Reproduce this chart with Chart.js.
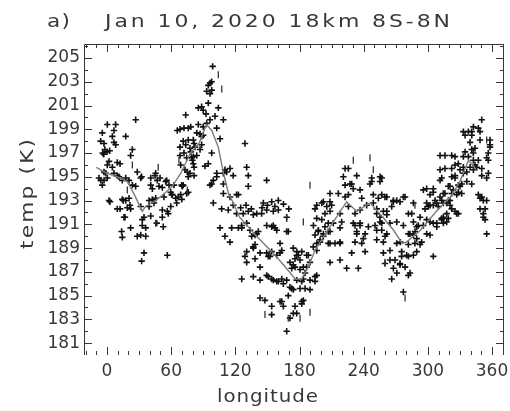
<!DOCTYPE html>
<html>
<head>
<meta charset="utf-8">
<title>Jan 10, 2020 18km 8S-8N</title>
<script src="https://cdn.jsdelivr.net/npm/chart.js@4.4.1/dist/chart.umd.min.js"></script>
<style>
  html, body { margin: 0; padding: 0; background: #fff; }
  #wrap { width: 510px; height: 411px; }
</style>
</head>
<body>
<div id="wrap"><canvas id="chart" width="510" height="411"></canvas></div>
<script>
// values (longitude in deg, temperature in K)
const plusLon = [
  -7.5, -5.9, -2.8, 0.3, -4.4, -5.9, -2.8, 6.5, 8.1, -4.4,
  6.5, 5.0, 17.5, 0.3, 8.1, 26.8, -4.0, -2.0, 0.0, 2.5,
  -3.0, 23.7, 22.1, 1.9, 9.6, 12.2, 0.3, 5.0, 28.3, -2.8,
  -1.2, 6.5, 9.6, 11.2, 14.3, 17.5, 20.6, 26.8, 23.7, 14.3,
  17.5, 20.6, 1.9, 9.6, 19.0, 22.1, 2.8, 15.2, 12.2, 21.5,
  16.8, 15.9, 22.1, 13.7, 14.3, 32.4, 31.5, 31.5, 34.6, 33.0,
  33.0, 36.2, 28.3, 31.5, 36.2, 34.6, 32.4, 40.9, 45.5, 47.0,
  40.9, 42.4, 48.6, 51.7, 54.9, 58.0, 62.6, 39.3, 42.4, 43.9,
  45.5, 53.3, 61.1, 64.2, 68.9, 51.7, 56.4, 59.6, 39.3, 40.9,
  51.7, 46.5, 52.6, 57.3, 65.2, 66.7, 76.0, 60.5, 69.8, 70.4,
  59.6, 56.4, 44.9, 49.6, 55.8, 65.7, 72.0, 78.3, 68.3, 76.0,
  73.6, 81.4, 78.3, 73.6, 72.0, 79.8, 81.4, 75.1, 81.4, 68.9,
  74.5, 69.9, 71.3, 84.0, 87.0, 90.0, 88.5, 80.7, 76.0, 71.3,
  68.3, 77.6, 82.3, 87.0, 88.5, 83.9, 79.2, 80.7, 74.5, 68.3,
  97.9, 94.7, 91.6, 80.7, 72.9, 77.6, 76.0, 98.8, 96.3, 97.9,
  94.7, 93.2, 96.3, 97.9, 94.7, 85.4, 88.5, 90.0, 92.6, 104.1,
  101.0, 96.3, 108.8, 85.4, 90.0, 93.2, 102.6, 105.7, 115.0, 111.9,
  118.0, 102.6, 99.4, 97.9, 96.3, 108.8, 102.6, 108.8, 110.3, 129.0,
  130.6, 132.1, 132.1, 149.3, 122.8, 99.4, 108.8, 115.0, 121.2, 107.2,
  113.4, 118.1, 121.2, 127.4, 132.1, 136.8, 140.0, 146.2, 154.0, 160.2,
  149.3, 155.5, 160.2, 168.0, 144.6, 125.0, 130.0, 135.0, 145.0, 150.0,
  157.0, 165.0, 170.0, 105.7, 110.3, 115.0, 116.6, 122.8, 125.9, 130.6,
  133.7, 140.0, 149.3, 154.0, 158.7, 168.0, 155.5, 157.1, 141.5, 126.0,
  169.5, 135.3, 138.4, 136.8, 138.4, 130.6, 129.0, 130.6, 138.4, 143.1,
  149.3, 150.8, 154.0, 161.8, 163.4, 161.8, 136.8, 143.1, 152.4, 158.7,
  174.2, 177.4, 171.1, 174.2, 175.8, 178.9, 180.5, 182.1, 183.6, 186.7,
  188.3, 189.8, 196.1, 192.9, 126.0, 136.8, 143.1, 149.3, 154.0, 160.2,
  164.9, 171.1, 174.2, 169.5, 175.8, 143.1, 154.0, 163.4, 164.9, 154.0,
  171.1, 150.8, 155.5, 158.7, 163.4, 168.0, 180.5, 183.6, 182.1, 196.1,
  194.5, 189.8, 182.1, 147.7, 161.8, 174.2, 182.1, 168.0, 177.4, 186.7,
  175.8, 180.5, 185.2, 172.7, 177.4, 183.6, 189.8, 194.5, 172.7, 185.2,
  177.4, 196.1, 199.2, 202.3, 206.9, 203.8, 197.6, 194.5, 208.5, 213.2,
  217.9, 217.9, 224.1, 235.0, 231.9, 238.2, 233.5, 231.9, 236.6, 241.3,
  244.4, 250.6, 252.2, 196.1, 200.8, 205.5, 208.5, 217.9, 225.7, 231.9,
  236.6, 242.8, 249.0, 252.2, 222.6, 228.8, 230.3, 247.5, 255.3, 208.5,
  216.3, 225.7, 222.6, 236.6, 238.2, 249.0, 253.7, 261.6, 267.8, 274.0,
  278.7, 202.3, 194.5, 210.0, 203.8, 208.5, 196.1, 200.8, 206.9, 211.6,
  219.4, 217.9, 193.0, 197.6, 202.3, 208.5, 199.2, 206.9, 217.9, 230.3,
  233.5, 239.7, 236.6, 241.3, 228.8, 208.5, 222.6, 225.7, 221.0, 233.5,
  227.2, 247.5, 245.9, 255.3, 252.2, 255.3, 258.4, 261.6, 255.3, 264.6,
  256.9, 260.0, 258.4, 252.2, 264.6, 270.9, 277.1, 281.8, 286.5, 291.1,
  288.0, 283.3, 289.6, 292.7, 264.6, 267.8, 274.0, 275.5, 280.2, 281.8,
  277.1, 271.0, 305.1, 286.5, 284.9, 297.4, 292.7, 298.9, 305.1, 308.3,
  314.5, 317.6, 295.8, 289.6, 281.8, 286.5, 298.9, 302.0, 294.2, 287.9,
  281.8, 274.3, 270.9, 275.5, 281.8, 286.5, 289.6, 269.3, 274.0, 278.7,
  283.3, 266.2, 259.9, 258.4, 261.6, 256.9, 261.6, 267.7, 270.9, 277.1,
  266.2, 256.9, 256.9, 259.9, 298.9, 305.1, 314.5, 320.7, 328.5, 341.0,
  350.4, 355.0, 348.8, 351.9, 355.0, 302.0, 308.3, 312.9, 317.6, 320.7,
  325.4, 328.5, 331.6, 327.0, 319.2, 314.5, 308.3, 302.0, 298.9, 350.4,
  342.6, 347.2, 337.9, 333.2, 348.8, 341.1, 348.8, 358.1, 344.1, 334.8,
  333.2, 337.9, 342.6, 347.2, 355.0, 356.6, 355.0, 342.6, 339.5, 344.1,
  347.2, 348.8, 351.9, 353.5, 351.9, 353.5, 316.0, 322.3, 325.4, 311.4,
  313.0, 322.3, 325.4, 328.5, 330.1, 333.2, 322.3, 325.4, 333.2, 331.7,
  336.4, 330.1, 328.5, 323.8, 319.1, 316.0, 322.3, 320.7, 317.6, 313.0,
  311.4, 306.7, 305.1, 302.0, 295.8, 305.1, 309.8, 300.4, 322.3, 327.0,
  319.1, 314.5, 313.0, 311.4, 316.0, 311.4, 325.4, 358.1, 358.1, 356.5,
  356.5, 341.0, 342.5, 345.7, 350.4, 350.4, 336.4, 334.8, 341.0, 339.5
];
const plusTemp = [
  194.9, 194.7, 194.7, 194.9, 194.3, 198.0, 197.8, 197.9, 197.7, 198.7,
  198.9, 198.4, 198.4, 199.4, 199.4, 199.8, 197.0, 197.3, 197.1, 197.2,
  196.9, 197.3, 196.8, 196.3, 196.2, 196.1, 196.0, 195.8, 195.4, 195.4,
  195.3, 195.3, 195.1, 195.0, 194.7, 194.9, 194.7, 194.2, 194.3, 193.1,
  193.0, 193.2, 193.0, 192.3, 192.4, 192.3, 192.9, 193.0, 192.3, 192.6,
  191.6, 191.6, 190.7, 190.4, 189.9, 195.0, 194.9, 192.5, 191.6, 191.4,
  190.9, 190.7, 190.0, 190.1, 190.0, 188.6, 187.9, 194.9, 195.3, 194.7,
  194.3, 194.0, 194.2, 194.1, 194.6, 194.3, 194.3, 193.0, 193.1, 192.8,
  193.2, 193.3, 193.5, 193.2, 193.5, 192.2, 192.1, 192.5, 192.5, 191.7,
  191.6, 191.1, 190.8, 191.9, 192.8, 193.3, 193.7, 193.5, 194.3, 194.2,
  193.7, 188.4, 195.1, 194.9, 194.7, 198.9, 199.1, 199.2, 199.0, 199.1,
  200.2, 197.8, 197.1, 197.7, 197.0, 196.4, 195.8, 195.4, 195.1, 196.0,
  193.6, 193.1, 194.3, 198.7, 198.6, 198.5, 198.4, 198.1, 198.1, 198.0,
  197.5, 197.4, 197.5, 197.3, 197.7, 196.8, 196.6, 196.7, 196.6, 196.8,
  197.0, 196.1, 195.9, 196.1, 195.6, 195.3, 195.0, 204.3, 202.9, 203.0,
  202.7, 202.2, 202.0, 202.3, 201.2, 200.8, 200.9, 200.6, 200.3, 200.8,
  200.1, 199.8, 199.8, 199.4, 199.2, 199.5, 199.1, 198.2, 195.7, 195.4,
  195.1, 195.0, 194.7, 194.4, 194.3, 194.4, 195.3, 195.3, 195.6, 197.8,
  195.8, 195.1, 194.2, 194.7, 193.5, 192.8, 193.6, 193.3, 193.5, 192.3,
  192.2, 192.6, 191.9, 191.9, 192.1, 191.8, 191.9, 192.8, 192.9, 193.0,
  192.2, 192.1, 192.2, 191.6, 191.9, 192.4, 192.6, 192.3, 192.4, 192.6,
  192.5, 192.7, 192.3, 190.7, 190.0, 189.5, 190.7, 190.7, 190.9, 191.1,
  190.5, 190.2, 190.9, 190.8, 190.5, 190.4, 190.9, 190.7, 190.4, 190.7,
  190.4, 190.0, 190.1, 189.1, 189.3, 188.7, 188.3, 187.8, 188.1, 188.6,
  188.6, 188.3, 188.7, 189.4, 188.8, 188.6, 189.0, 187.4, 188.3, 188.4,
  189.0, 188.7, 187.8, 187.6, 188.1, 188.4, 188.0, 188.7, 187.4, 187.4,
  188.4, 187.8, 188.8, 189.1, 186.4, 186.6, 186.3, 186.7, 186.4, 186.2,
  186.0, 185.7, 185.5, 185.0, 184.1, 184.8, 184.1, 184.5, 184.1, 183.4,
  183.1, 186.6, 186.3, 186.2, 186.4, 186.3, 185.6, 184.6, 184.3, 186.7,
  186.2, 185.5, 186.2, 184.6, 184.5, 183.5, 184.5, 182.0, 188.4, 188.4,
  187.4, 187.2, 186.9, 187.3, 186.3, 186.4, 186.3, 186.6, 185.6, 185.6,
  183.5, 189.4, 189.5, 190.0, 190.4, 190.8, 190.5, 190.1, 189.4, 189.4,
  189.4, 188.0, 187.3, 187.3, 189.5, 189.4, 190.2, 190.9, 191.1, 190.2,
  190.8, 190.9, 190.5, 192.6, 192.8, 192.5, 192.9, 191.9, 192.5, 191.9,
  192.2, 192.6, 192.8, 192.3, 194.3, 194.4, 194.0, 194.6, 194.6, 193.6,
  193.6, 193.5, 193.3, 193.9, 193.2, 193.5, 193.2, 193.3, 193.0, 192.9,
  193.3, 192.9, 192.3, 192.6, 191.9, 192.1, 191.5, 191.4, 191.1, 191.1,
  191.2, 190.7, 190.9, 190.4, 190.2, 190.4, 189.7, 189.4, 189.5, 191.1,
  190.4, 189.8, 190.9, 188.7, 188.6, 187.8, 195.7, 195.7, 195.0, 195.1,
  194.4, 194.9, 194.4, 195.0, 191.9, 191.6, 192.1, 191.8, 191.2, 191.1,
  190.5, 190.0, 189.5, 189.7, 188.8, 191.2, 190.9, 191.9, 191.2, 190.9,
  190.4, 190.2, 189.8, 189.3, 188.0, 187.3, 187.6, 188.3, 188.4, 186.7,
  185.3, 186.9, 188.3, 192.8, 191.9, 192.3, 191.6, 191.4, 191.1, 190.8,
  191.1, 191.2, 190.9, 190.8, 190.2, 190.1, 190.2, 190.1, 189.5, 189.4,
  189.3, 189.5, 189.4, 188.7, 188.3, 188.4, 188.7, 188.0, 187.7, 187.4,
  186.9, 186.4, 187.7, 188.6, 190.2, 191.1, 192.1, 192.9, 193.0, 193.3,
  192.5, 194.9, 193.5, 193.3, 194.0, 193.7, 193.6, 194.2, 194.3, 194.4,
  193.3, 193.0, 192.3, 191.9, 190.2, 191.2, 191.1, 191.5, 191.9, 192.6,
  192.1, 191.9, 193.6, 193.5, 193.0, 192.8, 192.8, 192.6, 192.8, 199.8,
  199.2, 199.1, 198.8, 198.8, 198.8, 198.5, 198.1, 197.7, 197.4, 197.1,
  196.7, 196.7, 196.4, 196.4, 196.6, 195.3, 194.9, 195.6, 195.8, 196.0,
  193.5, 193.2, 193.0, 192.3, 191.6, 191.4, 196.8, 196.8, 196.7, 195.6,
  194.9, 195.7, 196.0, 196.1, 195.6, 195.8, 195.0, 194.9, 195.3, 194.4,
  194.6, 194.2, 193.7, 193.9, 194.2, 193.6, 193.6, 193.0, 192.8, 193.0,
  193.3, 193.0, 194.0, 193.5, 193.9, 192.6, 192.5, 192.5, 192.3, 191.9,
  191.5, 191.6, 191.4, 196.8, 195.7, 194.7, 195.1, 198.1, 197.5, 197.0,
  196.4, 197.3, 197.0, 195.8, 195.7, 195.1, 195.4, 198.5, 198.8, 197.9
];
// the short vertical marks
const barLon = [23.7, 19.0, 45.5, 104.1, 107.3, 67.3, 75.1, 168.0, 183.6, 169.5, 180.5, 189.8,
  147.7, 245.9, 249.0, 230.3, 189.8, 288.0, 278.7, 355.0, 47.9, 339.5, 259.9];
const barTemp = [196.0, 193.9, 191.1, 203.6, 202.4, 196.4, 193.9, 191.5, 191.2, 183.1, 183.1, 183.6,
  183.4, 196.6, 195.6, 196.4, 194.3, 192.6, 184.8, 198.1, 195.8, 197.9, 187.8];
// grey running mean
const meanLon = [-10, 0, 10, 19, 25, 33, 36, 45.5, 55, 61, 69, 78, 86, 93, 98, 104, 109, 113.5, 117, 124,
  140, 154, 165, 176, 182, 188, 194.5, 202, 213, 224, 233.5, 246, 258, 268, 276, 280, 293, 308, 321, 330,
  338, 342, 345];
const meanTemp = [195.8, 195.3, 195.0, 194.6, 193.6, 192.1, 192.5, 193.0, 193.7, 194.2, 195.3, 197.0, 197.8,
  199.4, 198.9, 197.5, 195.3, 193.6, 193.0, 191.6, 190.0, 188.7, 187.6, 186.4, 186.4, 187.4, 188.8, 189.9,
  191.4, 192.9, 192.1, 192.8, 191.6, 190.5, 189.4, 189.5, 190.5, 192.1, 193.3, 194.6, 196.4, 196.0, 195.6];

const lonTicks = [0, 60, 120, 180, 240, 300, 360];
const tempTicks = [181, 183, 185, 187, 189, 191, 193, 195, 197, 199, 201, 203, 205];

const FONT = "'DejaVu Sans', sans-serif";
const INK = '#383838';

const toPoints = (xs, ys) => xs.map((v, i) => ({ x: v, y: ys[i] }));

// wide, evenly spaced lettering to mimic the IDL vector font:
// every glyph is stretched sideways, then spread to cover the given width
function spacedText(ctx, text, x0, y0, width, stretch) {
  const chars = [...text];
  const w = chars.map(c => ctx.measureText(c).width * stretch);
  const gap = (width - w.reduce((s, v) => s + v, 0)) / (chars.length - 1);
  let x = x0;
  chars.forEach((c, i) => {
    ctx.save();
    ctx.translate(x, y0);
    ctx.scale(stretch, 1);
    ctx.fillText(c, 0, 0);
    ctx.restore();
    x += w[i] + gap;
  });
}

// box on three sides, inward ticks on all four
const frame = {
  id: 'frame',
  afterDatasetsDraw(chart) {
    const { ctx, chartArea: a, scales: { x, y } } = chart;
    ctx.save();
    ctx.strokeStyle = INK;
    ctx.lineWidth = 1;
    ctx.beginPath();
    ctx.moveTo(a.left + 0.5, a.bottom);
    ctx.lineTo(a.left + 0.5, a.top + 0.5);
    ctx.lineTo(a.right - 0.5, a.top + 0.5);
    ctx.lineTo(a.right - 0.5, a.bottom);
    for (let v = -20; v <= 370; v += 10) {
      if (v < x.min || v > x.max) continue;
      const px = Math.round(x.getPixelForValue(v)) + 0.5;
      const len = v % 60 === 0 ? 8 : 4;
      ctx.moveTo(px, a.top); ctx.lineTo(px, a.top + len);
      ctx.moveTo(px, a.bottom); ctx.lineTo(px, a.bottom - len);
    }
    for (let v = 181; v <= 206; v++) {
      if (v < y.min || v > y.max) continue;
      const py = Math.round(y.getPixelForValue(v)) + 0.5;
      const len = v % 2 === 1 ? 8 : 4;
      ctx.moveTo(a.left, py); ctx.lineTo(a.left + len, py);
      ctx.moveTo(a.right, py); ctx.lineTo(a.right - len, py);
    }
    ctx.stroke();
    ctx.restore();
  }
};

// title and axis titles
const labels = {
  id: 'labels',
  afterDraw(chart) {
    const ctx = chart.ctx;
    ctx.save();
    ctx.fillStyle = INK;
    ctx.textBaseline = 'alphabetic';
    ctx.font = '18px ' + FONT;
    spacedText(ctx, 'a)', 47, 27, 23, 1.2);
    spacedText(ctx, 'Jan 10, 2020 18km 8S-8N', 105, 27, 345, 1.22);
    spacedText(ctx, 'longitude', 217, 402, 101, 1.1);
    ctx.translate(33, 194);
    ctx.rotate(-Math.PI / 2);
    spacedText(ctx, 'temp (K)', -55, 0, 110, 1.2);
    ctx.restore();
  }
};

new Chart(document.getElementById('chart'), {
  type: 'scatter',
  data: {
    datasets: [
      {
        data: toPoints(meanLon, meanTemp),
        showLine: true,
        borderColor: '#7c7c7c',
        borderWidth: 1.4,
        pointRadius: 0,
        order: 0
      },
      {
        data: toPoints(barLon, barTemp),
        pointStyle: 'line',
        rotation: 90,
        pointRadius: 3.5,
        borderWidth: 1.3,
        borderColor: '#333',
        order: 1
      },
      {
        data: toPoints(plusLon, plusTemp),
        pointStyle: 'cross',
        pointRadius: 3.2,
        borderWidth: 1.6,
        borderColor: '#111',
        order: 2
      }
    ]
  },
  options: {
    responsive: false,
    animation: false,
    devicePixelRatio: 1,
    layout: { padding: { top: 44, right: 6, left: 0, bottom: 0 } },
    plugins: { legend: { display: false }, tooltip: { enabled: false } },
    scales: {
      x: {
        type: 'linear',
        min: -21.5,
        max: 371.2,
        grid: { display: false, drawTicks: false },
        border: { display: false },
        afterBuildTicks: s => { s.ticks = lonTicks.map(v => ({ value: v })); },
        afterFit: s => { s.height = 56; s.paddingLeft = 0; s.paddingRight = 0; },
        ticks: { font: { family: FONT, size: 17 }, color: INK, padding: 6, maxRotation: 0, autoSkip: false }
      },
      y: {
        min: 180,
        max: 206.18,
        grid: { display: false, drawTicks: false },
        border: { display: false },
        afterBuildTicks: s => { s.ticks = tempTicks.map(v => ({ value: v })); },
        afterFit: s => { s.width = 84; s.paddingTop = 0; s.paddingBottom = 0; },
        ticks: { font: { family: FONT, size: 17 }, color: INK, padding: 4, autoSkip: false }
      }
    }
  },
  plugins: [frame, labels]
});
</script>
</body>
</html>
